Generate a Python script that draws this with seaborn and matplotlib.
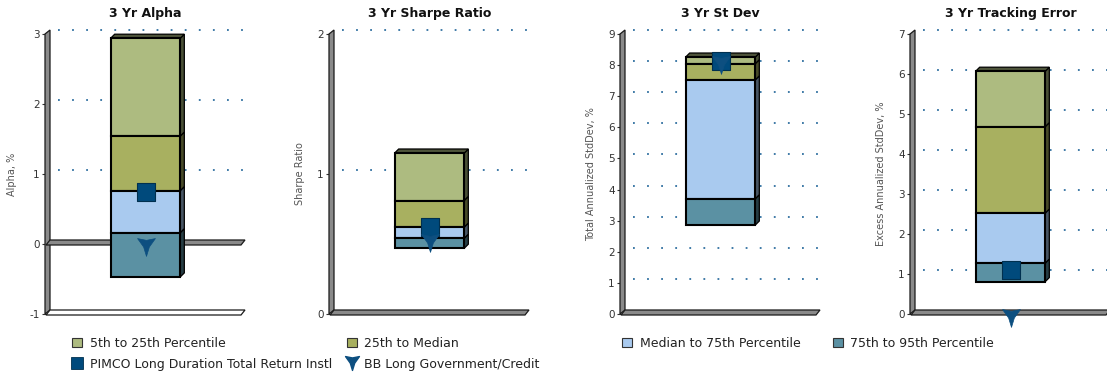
import numpy as np
import pandas as pd
import matplotlib
matplotlib.use("Agg")
import matplotlib.pyplot as plt
import seaborn as sns
from matplotlib.patches import Polygon, Patch
from matplotlib.lines import Line2D
from matplotlib.path import Path
from matplotlib.transforms import IdentityTransform

sns.set_theme(style="white")
plt.rcParams["font.family"] = ["DejaVu Sans"]

# ---- data -------------------------------------------------------------
titles = ["3 Yr Alpha", "3 Yr Sharpe Ratio", "3 Yr St Dev", "3 Yr Tracking Error"]
ylabels = ["Alpha, %", "Sharpe Ratio", "Total Annualized StdDev, %",
           "Excess Annualized StdDev, %"]
p05 = [2.94, 1.15, 8.26, 6.07]
p25 = [1.54, 0.81, 8.04, 4.68]
p50 = [0.76, 0.62, 7.52, 2.52]
p75 = [0.16, 0.54, 3.70, 1.27]
p95 = [-0.47, 0.47, 2.86, 0.81]
fund = [0.74, 0.62, 8.12, 1.10]
benchmark = [-0.04, 0.51, 8.00, -0.09]
y_ranges = [(-1, 3), (0, 2), (0, 9), (0, 7)]

band_labels = ["5th to 25th Percentile", "25th to Median",
               "Median to 75th Percentile", "75th to 95th Percentile"]
fund_label = "PIMCO Long Duration Total Return Instl"
bench_label = "BB Long Government/Credit"

# ---- style ------------------------------------------------------------
band_colors = ["#adbb80", "#a8b060", "#a9caef", "#5b91a3"]
fund_color = "#004a7c"
bench_color = "#0d4f80"
grid_color = "#2f6fa0"
wall_color = "#8a8a8a"
edge_dark = "#1a1a1a"

W, H = 1107, 374
fig = plt.figure(figsize=(W / 100, H / 100), dpi=100)
fig.patch.set_facecolor("white")

ax_left_px = [46, 330, 621, 911]
ax_w_px = 199
ax_top_px, ax_bot_px = 34, 314
depth = 4.0

# arrowhead marker for the benchmark
arrow = Path([(-1, 1), (0, 0.8), (1, 1), (0.32, 0.05), (0, -1.0), (-0.32, 0.05), (-1, 1)],
             [Path.MOVETO] + [Path.LINETO] * 5 + [Path.CLOSEPOLY])


def darker(c, f):
    r, g, b = matplotlib.colors.to_rgb(c)
    return (r * f, g * f, b * f)


def add_poly(ax, pts, **kw):
    poly = Polygon(pts, closed=True, transform=IdentityTransform(), clip_on=False, **kw)
    ax.add_artist(poly)
    return poly


for i in range(4):
    left = ax_left_px[i] / W
    bottom = (H - ax_bot_px) / H
    ax = fig.add_axes([left, bottom, ax_w_px / W, (ax_bot_px - ax_top_px) / H])
    ax.set_facecolor("none")

    segs = pd.DataFrame({
        "band": band_labels,
        "low": [p25[i], p50[i], p75[i], p95[i]],
        "high": [p05[i], p25[i], p50[i], p75[i]],
        "color": band_colors,
    })
    segs["size"] = segs["high"] - segs["low"]

    for _, row in segs.iterrows():
        sns.barplot(x=[0], y=[row["size"]], bottom=row["low"], width=0.35,
                    color=row["color"], saturation=1, edgecolor="black",
                    linewidth=1.5, ax=ax, zorder=3)

    lo, hi = y_ranges[i]
    ax.set_xlim(-0.5, 0.5)
    ax.set_ylim(lo, hi)
    ax.set_yticks(np.arange(lo, hi + 1, 1))
    ax.set_yticklabels([str(v) for v in range(lo, hi + 1)])
    ax.set_xticks([])
    ax.set_xlabel("")
    for s in ax.spines.values():
        s.set_visible(False)
    ax.tick_params(axis="y", left=True, length=3, width=0.8, color="#333333",
                   pad=1.5, labelsize=7.5, labelcolor="#333333")
    ax.set_ylabel(ylabels[i], fontsize=7, color="#555555", labelpad=9)
    ax.set_title(titles[i], fontsize=9, fontweight="bold", color="#111111", pad=12)

    # geometry in display pixels
    x0d, yb = ax.transData.transform((-0.5, lo))
    x1d, yt = ax.transData.transform((0.5, hi))
    _, y0d = ax.transData.transform((0, 0))

    # back-wall dotted grid lines
    for v in range(lo, hi + 1):
        if v == lo or v == 0:
            continue
        _, yv = ax.transData.transform((0, v))
        ln = Line2D([x0d + depth + 8, x1d], [yv + depth, yv + depth],
                    transform=IdentityTransform(), color=grid_color, lw=1.3,
                    linestyle=(0, (1, 6.8)), zorder=1, clip_on=False)
        ax.add_artist(ln)

    # left wall
    add_poly(ax, [(x0d - 1, yb), (x0d - 1, yt), (x0d + depth, yt + depth), (x0d + depth, yb + depth)],
             facecolor=wall_color, edgecolor=edge_dark, lw=0.9, zorder=1.5)

    # floor plate(s)
    def plate(yy, face):
        add_poly(ax, [(x0d, yy - 1), (x1d - depth, yy - 1), (x1d, yy + depth), (x0d + depth, yy + depth)],
                 facecolor=face, edgecolor=edge_dark, lw=0.9, zorder=1.6)

    if lo < 0:
        plate(yb, "white")
        plate(y0d, wall_color)
    else:
        plate(yb, wall_color)

    # 3-D side and top faces of the stacked bar
    bars = [p for p in ax.patches]
    top_y = None
    for p, col in zip(bars, band_colors):
        bx0, by0 = p.get_x(), p.get_y()
        bx1, by1 = bx0 + p.get_width(), by0 + p.get_height()
        (dx0, dy0) = ax.transData.transform((bx0, by0))
        (dx1, dy1) = ax.transData.transform((bx1, by1))
        add_poly(ax, [(dx1, dy0), (dx1 + depth, dy0 + depth), (dx1 + depth, dy1 + depth), (dx1, dy1)],
                 facecolor=darker(col, 0.42), edgecolor="black", lw=0.9, zorder=2.9)
        if top_y is None or dy1 > top_y[1]:
            top_y = (dx0, dy1, dx1, col)
    dx0, dy1, dx1, col = top_y
    add_poly(ax, [(dx0, dy1), (dx0 + depth, dy1 + depth), (dx1 + depth, dy1 + depth), (dx1, dy1)],
             facecolor=darker(col, 0.45), edgecolor="black", lw=0.9, zorder=2.9)

    # fund and benchmark markers
    sns.scatterplot(x=[0], y=[fund[i]], marker="s", s=150, color=fund_color,
                    edgecolor="#00304f", linewidth=0.8, ax=ax, zorder=5, clip_on=False)
    sns.scatterplot(x=[0], y=[benchmark[i]], marker=arrow, s=165, color=bench_color,
                    edgecolor=bench_color, linewidth=0.5, ax=ax, zorder=6, clip_on=False)
    ax.set_xlim(-0.5, 0.5)
    ax.set_ylim(lo, hi)
    ax.set_xlabel("")

# ---- legend -----------------------------------------------------------
def band_handle(c):
    return Patch(facecolor=c, edgecolor="#333333", linewidth=0.8)

fund_handle = Line2D([], [], ls="", marker="s", markersize=8.5, markerfacecolor=fund_color,
                     markeredgecolor="#00304f", markeredgewidth=0.6)
bench_handle = Line2D([], [], ls="", marker=arrow, markersize=10, markerfacecolor=bench_color,
                      markeredgecolor=bench_color)

columns = [
    ([band_handle(band_colors[0]), fund_handle], [band_labels[0], fund_label], 72),
    ([band_handle(band_colors[1]), bench_handle], [band_labels[1], bench_label], 347),
    ([band_handle(band_colors[2])], [band_labels[2]], 622),
    ([band_handle(band_colors[3])], [band_labels[3]], 833),
]
for handles, labels, xpx in columns:
    fig.legend(handles, labels, loc="upper left", bbox_to_anchor=(xpx / W, 1 - 337 / H),
               frameon=False, fontsize=9, handlelength=0.8, handleheight=0.8,
               handletextpad=0.6, labelspacing=0.62, borderpad=0, borderaxespad=0,
               labelcolor="#222222")

fig.savefig("out.png", dpi=100, facecolor="white")
